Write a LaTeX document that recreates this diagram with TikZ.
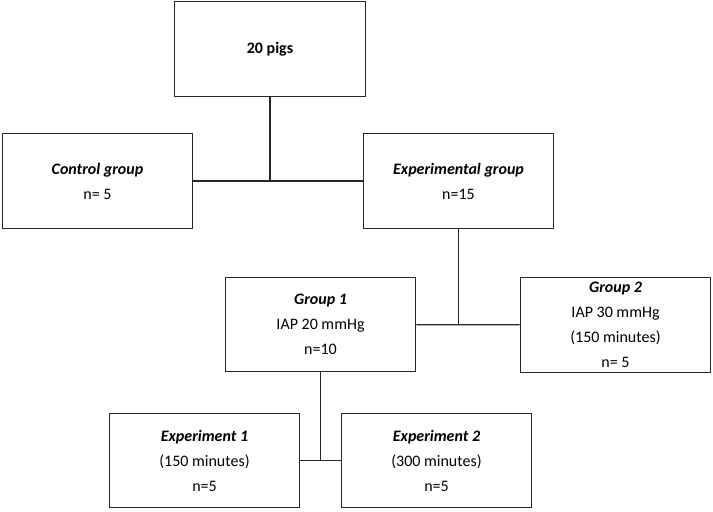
\documentclass[tikz,border=0pt]{standalone}
\usepackage{fontspec}
\setmainfont{Carlito}
\usepackage{tikz}
\usetikzlibrary{positioning}

\begin{document}
\begin{tikzpicture}[x=0.75pt,y=-0.75pt,
  box/.style={draw=black!85,line width=0.9pt,minimum width=143pt,minimum height=71pt,
    font=\fontsize{12}{18.75}\selectfont,align=center,inner sep=0pt},
  ln/.style={draw=black!85,line width=0.9pt}]
\useasboundingbox (0,0) rectangle (713,511);
\node[box] (pigs) at (270,49)    {\textbf{20 pigs}};
\node[box] (ctrl) at (97.5,181)  {\textbf{\textit{Control group}}\\n= 5};
\node[box] (expg) at (458.5,181) {\textbf{\textit{Experimental group}}\\n=15};
\node[box] (g1)   at (320.5,324.5) {\textbf{\textit{Group 1}}\\IAP 20 mmHg\\n=10};
\node[box] (g2)   at (615.5,325) {\textbf{\textit{Group 2}}\\IAP 30 mmHg\\(150 minutes)\\n= 5};
\node[box] (e1)   at (204.5,460.5) {\textbf{\textit{Experiment 1}}\\(150 minutes)\\n=5};
\node[box] (e2)   at (436.5,460.5) {\textbf{\textit{Experiment 2}}\\(300 minutes)\\n=5};
% tree links
\draw[ln] (ctrl) -- (expg);
\draw[ln] (pigs.south) -- (pigs.south |- ctrl.east);
\draw[ln] (g1) -- (g2);
\draw[ln] (expg.south) -- (expg.south |- g1.east);
\draw[ln] (e1) -- (e2);
\draw[ln] (g1.south) -- (g1.south |- e1.east);
\end{tikzpicture}
\end{document}
